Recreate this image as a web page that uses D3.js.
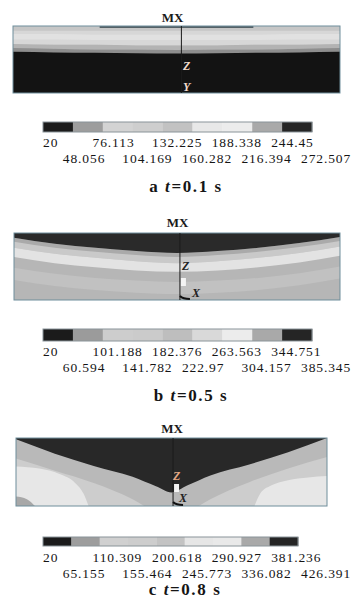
<!DOCTYPE html>
<html><head><meta charset="utf-8">
<script src="https://cdn.jsdelivr.net/npm/d3@7"></script>
<style>html,body{margin:0;padding:0;background:#fff;}svg{display:block;}</style>
</head><body><div id="chart"></div>
<script>
// ---------- DATA ----------
const panelLetters = ["a", "b", "c"];
const panelTimes = ["0.1", "0.5", "0.8"];

const levelsA = [20, 48.056, 76.113, 104.169, 132.225, 160.282, 188.338, 216.394, 244.45, 272.507];
const levelsB = [20, 60.594, 101.188, 141.782, 182.376, 222.97, 263.563, 304.157, 344.751, 385.345];
const levelsC = [20, 65.155, 110.309, 155.464, 200.618, 245.773, 290.927, 336.082, 381.236, 426.391];

const barColorsA = ["#1b1b1b", "#9d9d9d", "#d3d3d3", "#cecece", "#c2c2c2", "#e8e8e8", "#ececec", "#a9a9a9", "#252525"];
const barColorsB = ["#1b1b1b", "#9b9b9b", "#cdcdcd", "#cbcbcb", "#bebebe", "#d9d9d9", "#ececec", "#a9a9a9", "#252525"];
const barColorsC = ["#1b1b1b", "#9d9d9d", "#d0d0d0", "#cdcdcd", "#c3c3c3", "#e6e6e6", "#e9e9e9", "#a9a9a9", "#252525"];

// horizontal sample positions (-1 left edge .. 1 right edge)
const xs9 = [-1, -0.75, -0.5, -0.25, 0, 0.25, 0.5, 0.75, 1];
const xs11 = [-1, -0.75, -0.5, -0.25, -0.1, 0, 0.1, 0.25, 0.5, 0.75, 1];

// panel a: contour depths (0 = top, 1 = bottom)
const aLightTop = [0.07, 0.07, 0.07, 0.07, 0.07, 0.07, 0.07, 0.07, 0.07];
const aStripeTop = [0.12, 0.12, 0.13, 0.13, 0.13, 0.13, 0.13, 0.12, 0.12];
const aStripeBot = [0.2, 0.2, 0.21, 0.21, 0.21, 0.21, 0.21, 0.2, 0.2];
const aGreyTop = [0.27, 0.28, 0.28, 0.29, 0.29, 0.29, 0.28, 0.28, 0.27];
const aDkGreyTop = [0.33, 0.34, 0.35, 0.35, 0.36, 0.35, 0.35, 0.34, 0.33];
const aBlackTop = [0.385, 0.395, 0.4, 0.405, 0.41, 0.405, 0.4, 0.395, 0.385];
const aTopLine = [-0.47, 0.47];

// panel b
const bDark = [0.07, 0.16, 0.22, 0.27, 0.3, 0.27, 0.22, 0.15, 0.06];
const bGreyBot = [0.13, 0.22, 0.28, 0.33, 0.36, 0.33, 0.28, 0.21, 0.12];
const bWhiteTop = [0.22, 0.31, 0.37, 0.42, 0.45, 0.42, 0.37, 0.3, 0.2];
const bWhiteBot = [0.36, 0.45, 0.51, 0.56, 0.58, 0.56, 0.51, 0.44, 0.34];
const bLowTop = [0.52, 0.61, 0.67, 0.71, 0.73, 0.71, 0.67, 0.6, 0.5];
const bLowBot = [0.7, 0.79, 0.85, 0.89, 0.91, 0.89, 0.85, 0.78, 0.68];

// panel c
const cDark = [0.02, 0.23, 0.41, 0.57, 0.71, 0.8, 0.7, 0.55, 0.39, 0.21, 0.0];
const cLightTop = [0.3, 0.48, 0.66, 0.9, 1.1, 1.2, 1.1, 0.9, 0.65, 0.45, 0.28];
const cBlobLX = [-1, -0.85, -0.72, -0.62, -0.565, -0.53];
const cBlobLTop = [0.42, 0.45, 0.53, 0.66, 0.82, 1.02];
const cBlobRX = [0.53, 0.57, 0.64, 0.75, 0.88, 1];
const cBlobRTop = [1.02, 0.82, 0.7, 0.62, 0.58, 0.56];
const cCornerX = [-1, -0.93, -0.87];
const cCornerTop = [0.86, 0.9, 1.02];

// ---------- LAYOUT ----------
const W = 362, H = 604;
const svg = d3.select("#chart").append("svg").attr("width", W).attr("height", H);
const serif = "'Liberation Serif','DejaVu Serif',serif";

function series(xArr, top, bot) {
  return xArr.map((x, i) => ({ x: x, t: top ? top[i] : 0, b: bot ? bot[i] : 1 }));
}

const panels = [
  {
    box: [13, 340, 26, 93], mxX: 172.5, mxY: 22, axisX: 0.03,
    layers: [
      { c: "#c6c6c6", d: series(xs9, null, null) },
      { c: "#d7d7d7", d: series(xs9, aLightTop, aGreyTop) },
      { c: "#e1e1e1", d: series(xs9, aStripeTop, aStripeBot) },
      { c: "#b3b3b3", d: series(xs9, aGreyTop, aDkGreyTop) },
      { c: "#8e8e8e", d: series(xs9, aDkGreyTop, null) },
      { c: "#131313", d: series(xs9, aBlackTop, null) }
    ],
    topLine: aTopLine,
    labels: [
      { t: "Z", x: 183, y: 70, c: "#f2dccb" },
      { t: "Y", x: 183, y: 91, c: "#f2dccb" }
    ],
    bar: [43, 312, 122, 132], colors: barColorsA, levels: levelsA,
    rows: [147, 163], capX: 186, capY: 192
  },
  {
    box: [14, 340, 233, 300], mxX: 177.5, mxY: 227, axisX: 0.018,
    layers: [
      { c: "#b6b6b6", d: series(xs9, null, null) },
      { c: "#c9c9c9", d: series(xs9, null, bWhiteTop) },
      { c: "#aaaaaa", d: series(xs9, bDark, bGreyBot) },
      { c: "#e3e3e3", d: series(xs9, bWhiteTop, bWhiteBot) },
      { c: "#c1c1c1", d: series(xs9, bLowTop, bLowBot) },
      { c: "#2a2a2a", d: series(xs9, null, bDark) }
    ],
    labels: [
      { t: "Z", x: 182, y: 270, c: "#222" },
      { t: "X", x: 192, y: 297, c: "#222" }
    ],
    marks: true,
    bar: [43, 312, 329, 341], colors: barColorsB, levels: levelsB,
    rows: [356, 372], capX: 191, capY: 401
  },
  {
    box: [16, 327, 438, 506], mxX: 172, mxY: 433, axisX: 0.01,
    layers: [
      { c: "#b9b9b9", d: series(xs11, null, null) },
      { c: "#cdcdcd", d: series(xs11, cLightTop, null) },
      { c: "#e7e7e7", d: series(cBlobLX, cBlobLTop, null) },
      { c: "#e7e7e7", d: series(cBlobRX, cBlobRTop, null) },
      { c: "#a8a8a8", d: series(cCornerX, cCornerTop, null) },
      { c: "#282828", d: series(xs11, null, cDark) }
    ],
    labels: [
      { t: "Z", x: 173, y: 480, c: "#e4a884" },
      { t: "X", x: 179, y: 502, c: "#222" }
    ],
    marks: true,
    bar: [43, 298, 537, 546], colors: barColorsC, levels: levelsC,
    rows: [562, 578], capX: 185, capY: 595
  }
];

panels.forEach((p, pi) => {
  const [x0, x1, y0, y1] = p.box;
  const xS = d3.scaleLinear().domain([-1, 1]).range([x0, x1]);
  const yS = d3.scaleLinear().domain([0, 1]).range([y0, y1]);
  const g = svg.append("g");
  const clipId = "clip" + pi;
  svg.append("clipPath").attr("id", clipId).append("rect")
    .attr("x", x0).attr("y", y0).attr("width", x1 - x0).attr("height", y1 - y0);
  const field = g.append("g").attr("clip-path", `url(#${clipId})`);
  const area = d3.area().x(d => xS(d.x)).y0(d => yS(d.t)).y1(d => yS(d.b)).curve(d3.curveMonotoneX);
  p.layers.forEach(l => {
    field.append("path").attr("d", area(l.d)).attr("fill", l.c);
  });
  if (p.topLine) {
    field.append("line").attr("x1", xS(p.topLine[0])).attr("x2", xS(p.topLine[1]))
      .attr("y1", y0 + 1).attr("y2", y0 + 1).attr("stroke", "#2f3f46").attr("stroke-width", 1.6);
  }
  // frame
  g.append("rect").attr("x", x0).attr("y", y0).attr("width", x1 - x0).attr("height", y1 - y0)
    .attr("fill", "none").attr("stroke", "#6f8e9b").attr("stroke-width", 1);
  // axis line
  g.append("line").attr("x1", xS(p.axisX)).attr("x2", xS(p.axisX)).attr("y1", y0).attr("y2", y1)
    .attr("stroke", "#1a1a1a").attr("stroke-width", 1);
  if (p.marks) {
    const ax = xS(p.axisX);
    g.append("rect").attr("x", ax + 1).attr("y", y1 - 22).attr("width", 5).attr("height", 8).attr("fill", "#f4f4f4");
    g.append("path").attr("d", `M${ax},${y1 - 4} Q${ax + 3},${y1 - 1} ${ax + 10},${y1 - 1}`)
      .attr("fill", "none").attr("stroke", "#111").attr("stroke-width", 2);
  }
  // MX
  g.append("text").attr("x", p.mxX).attr("y", p.mxY).attr("text-anchor", "middle")
    .attr("font-family", serif).attr("font-weight", "bold").attr("font-size", 13).attr("fill", "#1a1a1a").text("MX");
  p.labels.forEach(l => {
    g.append("text").attr("x", l.x).attr("y", l.y).attr("font-family", serif).attr("font-style", "italic")
      .attr("font-weight", "bold").attr("font-size", 12).attr("fill", l.c).text(l.t);
  });

  // colour bar
  const [bx0, bx1, by0, by1] = p.bar;
  const bS = d3.scaleBand().domain(d3.range(p.colors.length)).range([bx0, bx1]).paddingInner(0);
  const cb = svg.append("g");
  cb.selectAll("rect.seg").data(p.colors).join("rect").attr("class", "seg")
    .attr("x", (d, i) => bS(i)).attr("y", by0).attr("width", bS.bandwidth() + 0.3).attr("height", by1 - by0)
    .attr("fill", d => d);
  cb.append("rect").attr("x", bx0).attr("y", by0).attr("width", bx1 - bx0).attr("height", by1 - by0)
    .attr("fill", "none").attr("stroke", "#8a9499").attr("stroke-width", 1);
  const lS = d3.scaleLinear().domain([0, p.levels.length - 1]).range([33, 301]);
  cb.selectAll("text.lev").data(p.levels).join("text").attr("class", "lev")
    .attr("x", (d, i) => Math.max(bx0, lS(i)))
    .attr("y", (d, i) => p.rows[i % 2])
    .attr("font-family", serif).attr("font-size", 13.5).attr("letter-spacing", 0.9)
    .attr("fill", "#151515").text(d => String(d));
  // caption
  const cap = svg.append("text").attr("x", p.capX).attr("y", p.capY).attr("text-anchor", "middle")
    .attr("font-family", serif).attr("font-weight", "bold").attr("font-size", 17).attr("letter-spacing", 1.6)
    .attr("fill", "#151515");
  cap.append("tspan").text(panelLetters[pi] + " ");
  cap.append("tspan").attr("font-style", "italic").text("t");
  cap.append("tspan").text("=" + panelTimes[pi] + " s");
});
</script>
</body></html>
